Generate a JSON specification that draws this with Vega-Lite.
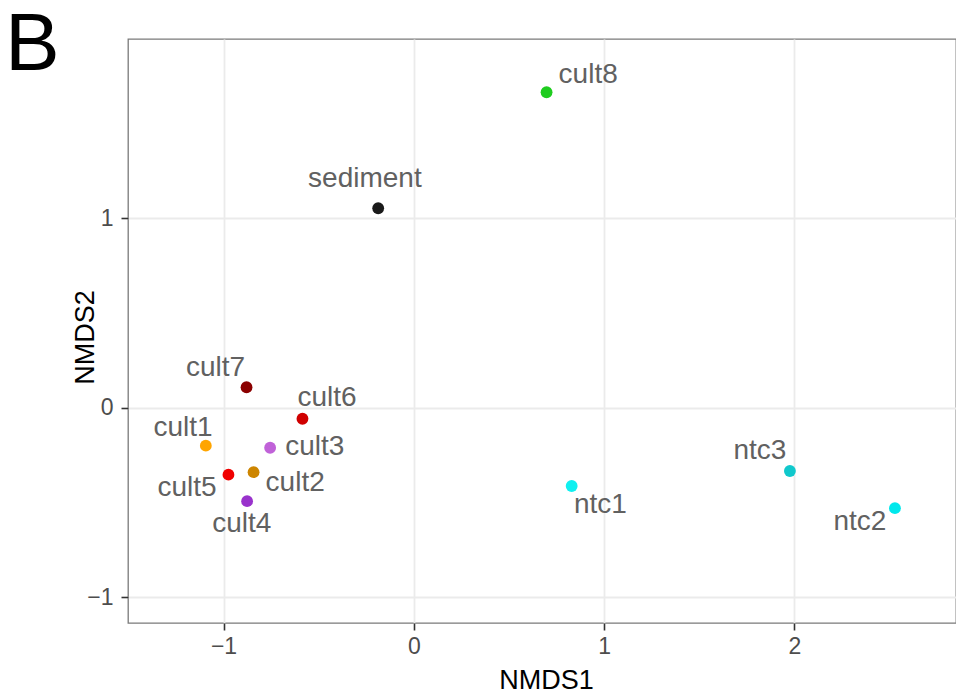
{
  "$schema": "https://vega.github.io/schema/vega-lite/v6.json",
  "autosize": "none",
  "width": 828,
  "height": 584,
  "padding": {"left": 128, "top": 39, "right": 0, "bottom": 71},
  "background": "white",
  "title": {
    "text": "B",
    "anchor": "start",
    "frame": "group",
    "orient": "top",
    "font": "Liberation Sans",
    "fontSize": 82,
    "fontWeight": "normal",
    "color": "#000000",
    "baseline": "alphabetic",
    "dx": -123,
    "offset": -33,
    "dy": 80
  },
  "config": {
    "view": {"stroke": "#7a7a7a", "strokeWidth": 1.3},
    "text": {"font": "Liberation Sans", "fontSize": 28, "color": "#616161", "align": "center", "baseline": "alphabetic"}
  },
  "data": {
    "values": [
      {"sample": "cult1", "NMDS1": -1.093, "NMDS2": -0.200},
      {"sample": "cult2", "NMDS1": -0.842, "NMDS2": -0.340},
      {"sample": "cult3", "NMDS1": -0.755, "NMDS2": -0.211},
      {"sample": "cult4", "NMDS1": -0.876, "NMDS2": -0.493},
      {"sample": "cult5", "NMDS1": -0.974, "NMDS2": -0.353},
      {"sample": "cult6", "NMDS1": -0.585, "NMDS2": -0.058},
      {"sample": "cult7", "NMDS1": -0.879, "NMDS2": 0.108},
      {"sample": "cult8", "NMDS1": 0.698, "NMDS2": 1.665},
      {"sample": "sediment", "NMDS1": -0.187, "NMDS2": 1.053},
      {"sample": "ntc1", "NMDS1": 0.830, "NMDS2": -0.413},
      {"sample": "ntc2", "NMDS1": 2.529, "NMDS2": -0.530},
      {"sample": "ntc3", "NMDS1": 1.977, "NMDS2": -0.334}
    ]
  },
  "encoding": {
    "x": {
      "field": "NMDS1",
      "type": "quantitative",
      "scale": {"domain": [-1.502, 2.85], "nice": false, "zero": false},
      "axis": {
        "title": "NMDS1",
        "titleFont": "Liberation Sans",
        "titleFontSize": 27,
        "titleFontWeight": "normal",
        "titleColor": "#000000",
        "titleX": 418,
        "titleY": 65,
        "titleBaseline": "alphabetic",
        "values": [-1, -0.5, 0, 0.5, 1, 1.5, 2, 2.5],
        "format": "d",
        "labelExpr": "datum.value % 1 === 0 ? datum.label : ''",
        "labelFont": "Liberation Sans",
        "labelFontSize": 23,
        "labelColor": "#4d4d4d",
        "labelPadding": 5,
        "domain": false,
        "grid": true,
        "gridColor": "#ebebeb",
        "gridWidth": {"condition": {"test": "datum.value % 1 !== 0", "value": 1.1}, "value": 1.8},
        "ticks": true,
        "tickSize": 7,
        "tickWidth": 1.6,
        "tickColor": "#333333",
        "tickOpacity": {"condition": {"test": "datum.value % 1 !== 0", "value": 0}, "value": 1}
      }
    },
    "y": {
      "field": "NMDS2",
      "type": "quantitative",
      "scale": {"domain": [-1.136, 1.946], "nice": false, "zero": false},
      "axis": {
        "title": "NMDS2",
        "titleFont": "Liberation Sans",
        "titleFontSize": 27,
        "titleFontWeight": "normal",
        "titleColor": "#000000",
        "titleY": 298,
        "titleX": -35,
        "titleBaseline": "alphabetic",
        "values": [-1, -0.5, 0, 0.5, 1, 1.5],
        "format": "d",
        "labelExpr": "datum.value % 1 === 0 ? datum.label : ''",
        "labelFont": "Liberation Sans",
        "labelFontSize": 23,
        "labelColor": "#4d4d4d",
        "labelPadding": 8,
        "domain": false,
        "grid": true,
        "gridColor": "#ebebeb",
        "gridWidth": {"condition": {"test": "datum.value % 1 !== 0", "value": 1.1}, "value": 1.8},
        "ticks": true,
        "tickSize": 7,
        "tickWidth": 1.6,
        "tickColor": "#333333",
        "tickOpacity": {"condition": {"test": "datum.value % 1 !== 0", "value": 0}, "value": 1}
      }
    }
  },
  "layer": [
    {
      "mark": {"type": "point", "filled": true, "shape": "circle", "size": 140, "opacity": 1},
      "encoding": {
        "color": {
          "field": "sample",
          "type": "nominal",
          "legend": null,
          "scale": {
            "domain": ["cult1", "cult2", "cult3", "cult4", "cult5", "cult6", "cult7", "cult8", "sediment", "ntc1", "ntc2", "ntc3"],
            "range": ["#ffa500", "#cd8500", "#c062d8", "#9932cc", "#f00000", "#d00000", "#8b0000", "#1fcc1f", "#1a1a1a", "#10f0f0", "#00e8ec", "#10c8cc"]
          }
        }
      }
    },
    {"transform": [{"filter": "datum.sample === 'cult1'"}], "mark": {"type": "text", "dx": -22.7, "dy": -9.7}, "encoding": {"text": {"field": "sample"}}},
    {"transform": [{"filter": "datum.sample === 'cult2'"}], "mark": {"type": "text", "dx": 41.6, "dy": 18.4}, "encoding": {"text": {"field": "sample"}}},
    {"transform": [{"filter": "datum.sample === 'cult3'"}], "mark": {"type": "text", "dx": 44.7, "dy": 7.3}, "encoding": {"text": {"field": "sample"}}},
    {"transform": [{"filter": "datum.sample === 'cult4'"}], "mark": {"type": "text", "dx": -5.3, "dy": 31}, "encoding": {"text": {"field": "sample"}}},
    {"transform": [{"filter": "datum.sample === 'cult5'"}], "mark": {"type": "text", "dx": -41.4, "dy": 21.3}, "encoding": {"text": {"field": "sample"}}},
    {"transform": [{"filter": "datum.sample === 'cult6'"}], "mark": {"type": "text", "dx": 24.6, "dy": -13}, "encoding": {"text": {"field": "sample"}}},
    {"transform": [{"filter": "datum.sample === 'cult7'"}], "mark": {"type": "text", "dx": -30.9, "dy": -11.3}, "encoding": {"text": {"field": "sample"}}},
    {"transform": [{"filter": "datum.sample === 'cult8'"}], "mark": {"type": "text", "dx": 41.6, "dy": -9.6}, "encoding": {"text": {"field": "sample"}}},
    {"transform": [{"filter": "datum.sample === 'sediment'"}], "mark": {"type": "text", "dx": -13.3, "dy": -21.6}, "encoding": {"text": {"field": "sample"}}},
    {"transform": [{"filter": "datum.sample === 'ntc1'"}], "mark": {"type": "text", "dx": 28.8, "dy": 27.3}, "encoding": {"text": {"field": "sample"}}},
    {"transform": [{"filter": "datum.sample === 'ntc2'"}], "mark": {"type": "text", "dx": -35, "dy": 21.7}, "encoding": {"text": {"field": "sample"}}},
    {"transform": [{"filter": "datum.sample === 'ntc3'"}], "mark": {"type": "text", "dx": -30, "dy": -11.7}, "encoding": {"text": {"field": "sample"}}}
  ]
}
